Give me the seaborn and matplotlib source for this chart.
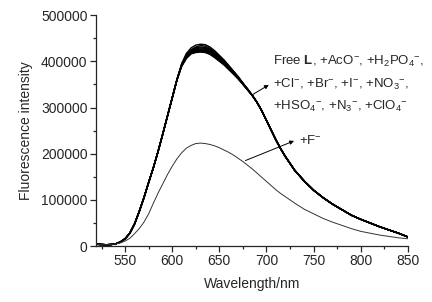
import numpy as np
import pandas as pd
import seaborn as sns
import matplotlib
matplotlib.use("Agg")
import matplotlib.pyplot as plt
from matplotlib.ticker import MultipleLocator

# wavelength grid (nm): 5 nm steps over the band, 10 nm in the tail
wavelength = list(range(520, 721, 5)) + list(range(730, 851, 10))

# L and L + anion (non-F) spectra: common rise / tail, each its own peak region (610-680 nm)
rise = [4000, 3500, 3000, 3500, 5000, 9000, 16000, 28000, 48000, 75000, 105000, 138000, 170000, 205000, 243000, 282000, 321000, 360000]
tail = [326000, 311000, 293000, 272000, 251000, 230000, 211000, 194000, 164000, 141000, 121000, 105000, 91000, 79000, 67000, 58000, 50000, 42000, 35000, 28000, 20000]

peak_free_L = [393000, 414000, 425000, 431000, 434000, 433000, 428000, 420000, 411000, 401000, 390000, 378000, 366000, 353000, 340000]
peak_aco    = [395000, 417000, 429000, 435000, 437000, 436000, 431000, 423000, 413000, 403000, 391000, 379000, 367000, 353000, 340000]
peak_h2po4  = [393000, 413000, 424000, 429000, 431000, 430000, 426000, 418000, 409000, 400000, 389000, 377000, 365000, 352000, 340000]
peak_cl     = [392000, 412000, 422000, 427000, 429000, 428000, 424000, 416000, 408000, 399000, 388000, 377000, 365000, 352000, 339000]
peak_br     = [392000, 411000, 421000, 425000, 427000, 426000, 422000, 414000, 406000, 397000, 387000, 376000, 364000, 352000, 339000]
peak_i      = [391000, 410000, 420000, 424000, 425000, 424000, 420000, 413000, 405000, 396000, 386000, 375000, 364000, 351000, 339000]
peak_no3    = [391000, 409000, 419000, 423000, 424000, 423000, 419000, 412000, 404000, 395000, 385000, 375000, 363000, 351000, 339000]
peak_hso4   = [390000, 408000, 418000, 421000, 422000, 421000, 417000, 410000, 402000, 394000, 384000, 374000, 363000, 351000, 338000]
peak_n3     = [390000, 407000, 417000, 420000, 421000, 420000, 416000, 409000, 401000, 393000, 383000, 373000, 362000, 350000, 338000]
peak_clo4   = [389000, 406000, 416000, 419000, 420000, 419000, 415000, 408000, 400000, 392000, 382000, 372000, 362000, 350000, 338000]

fluoride = [3000, 3000, 3000, 3500, 5000, 7000, 11000, 17000, 27000, 38000,
            52000, 70000, 93000, 115000, 135000, 155000, 173000, 189000, 202000, 212000,
            218000, 222000, 223000, 222000, 220000, 217000, 213000, 208000, 203000, 197000,
            190000, 183000, 175000, 167000, 158000, 149000, 140000, 131000, 122000, 114000,
            107000, 93000, 80000, 70000, 60000, 52000, 45000, 38000, 32000, 28000,
            24000, 21000, 18000, 16000]

peaks = [peak_free_L, peak_aco, peak_h2po4, peak_cl, peak_br, peak_i,
         peak_no3, peak_hso4, peak_n3, peak_clo4]

sns.set_style("ticks")
plt.rcParams['font.family'] = ['Liberation Sans', 'DejaVu Sans']
plt.rcParams['mathtext.fontset'] = 'custom'
plt.rcParams['mathtext.rm'] = 'Liberation Sans'
plt.rcParams['mathtext.it'] = 'Liberation Sans:italic'
plt.rcParams['mathtext.bf'] = 'Liberation Sans:bold'

fig = plt.figure(figsize=(4.32, 3.02), dpi=100)
ax = fig.add_axes([0.222, 0.185, 0.722, 0.765])

for pk in peaks:
    sns.lineplot(x=wavelength, y=rise + pk + tail, ax=ax, color='black', lw=1.0)
sns.lineplot(x=wavelength, y=fluoride, ax=ax, color='#333333', lw=0.7)

ax.set_xlim(519, 850)
ax.set_ylim(0, 500000)
ax.xaxis.set_major_locator(MultipleLocator(50))
ax.xaxis.set_minor_locator(MultipleLocator(25))
ax.yaxis.set_major_locator(MultipleLocator(100000))
ax.yaxis.set_minor_locator(MultipleLocator(50000))
ax.tick_params(which='major', direction='out', length=4, width=0.9, labelsize=10, pad=2)
ax.tick_params(which='minor', direction='out', length=2.5, width=0.9)
sns.despine(ax=ax)
for sp in ['left', 'bottom']:
    ax.spines[sp].set_linewidth(0.9)

ax.set_xlabel("Wavelength/nm", fontsize=10, labelpad=6)
ax.set_ylabel("Fluorescence intensity", fontsize=10, labelpad=6)

# anion labels
tx = 707
ax.text(tx, 400000, r"Free $\mathbf{L}$, +AcO$^{-}$, +H$_2$PO$_4$$^{-}$,", fontsize=9.5, va='center')
ax.text(tx, 350000, r"+Cl$^{-}$, +Br$^{-}$, +I$^{-}$, +NO$_3$$^{-}$,", fontsize=9.5, va='center')
ax.text(tx, 302000, r"+HSO$_4$$^{-}$, +N$_3$$^{-}$, +ClO$_4$$^{-}$", fontsize=9.5, va='center')
ax.text(734, 228000, r"+F$^{-}$", fontsize=9.5, va='center')

ax.annotate("", xy=(705, 352000), xytext=(682, 324000),
            arrowprops=dict(arrowstyle='-|>', color='black', lw=0.7, mutation_scale=6))
ax.annotate("", xy=(732, 230000), xytext=(675, 183000),
            arrowprops=dict(arrowstyle='-|>', color='black', lw=0.7, mutation_scale=6))

fig.savefig("out.png", dpi=100)
